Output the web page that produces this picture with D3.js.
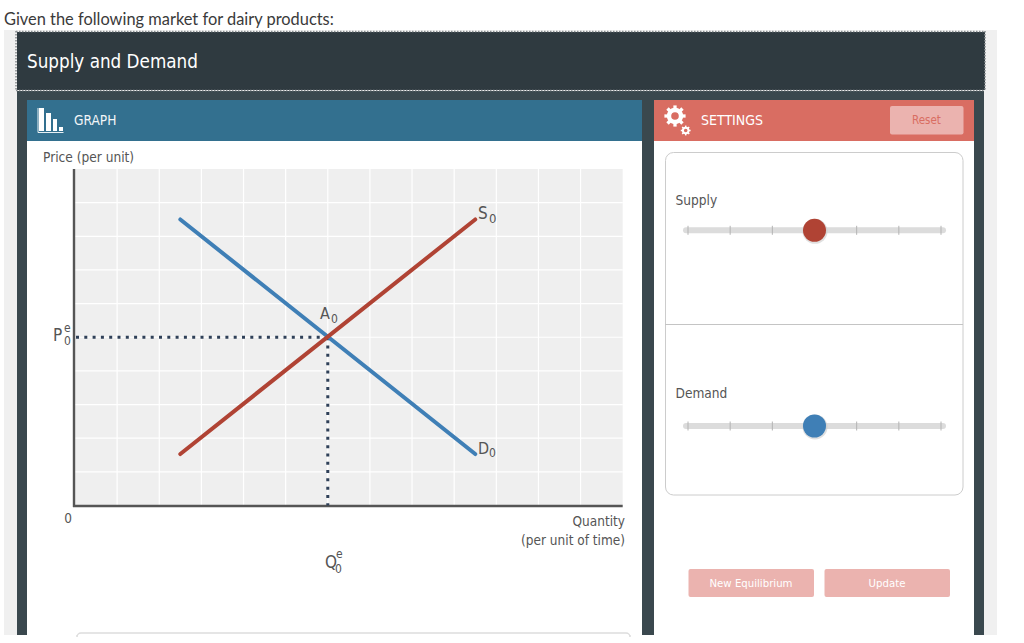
<!DOCTYPE html>
<html><head><meta charset="utf-8">
<script src="https://cdn.jsdelivr.net/npm/d3@7"></script>
<style>html,body{margin:0;padding:0;background:#fff;overflow:hidden}svg{display:block}</style></head>
<body><svg id="c" width="1024" height="643"></svg>
<script>
// ---- data ----
const supplyQ=[2.5,9.5], supplyP=[1.53,8.5];
const demandQ=[2.5,9.5], demandP=[8.5,1.53];
const eqQ=6, eqP=5;
const xDomain=[0,13], yDomain=[0,10];
const xGridTicks=d3.range(1,13), yGridTicks=d3.range(1,10);
const sliderStops=[0,1,2,4,5,6], sliderValue=3;

const svg=d3.select('#c');
const font='"DejaVu Sans Condensed","DejaVu Sans",sans-serif';
const rect=(x,y,w,h,f,r)=>svg.append('rect').attr('x',x).attr('y',y).attr('width',w).attr('height',h).attr('fill',f).attr('rx',r||0);
const txt=(x,y,s,size,fill,anchor,fam)=>svg.append('text').attr('x',x).attr('y',y).text(s).attr('font-size',size).attr('fill',fill).attr('text-anchor',anchor||'start').attr('font-family',fam||font);

// page furniture
txt(4,25,'Given the following market for dairy products:',16.4,'#3a3a3a','start','Lato,"Open Sans",sans-serif');
rect(4,30,993,605,'#f0f0f0');
rect(17,91,967,544,'#3a484e');
rect(17,32,968,58,'#2f3a40');
svg.append('path').attr('d','M16,90.5H985M16,31.5H985M16,31V90M985,31V90').attr('fill','none').attr('stroke','#8a8f92').attr('stroke-width',1.6).attr('stroke-dasharray','1.5 1.5');
txt(27,68,'Supply and Demand',18.7,'#fff');

// graph panel
rect(27,100,615,41,'#33708f');
rect(27,141,615,494,'#fff');
txt(74,125,'GRAPH',13.6,'#f2f6f8');
[[39,108,5,23],[46,113,5,18],[53,119,4,12],[59,127,4,4]].forEach(d=>rect(d[0],d[1],d[2],d[3],'#fff'));
svg.append('path').attr('d','M38,108V132.5H63.5').attr('fill','none').attr('stroke','#e8f0f4').attr('stroke-width',1);
txt(43,162,'Price (per unit)',13.6,'#555');

// plot
const x=d3.scaleLinear().domain(xDomain).range([75,622.7]);
const y=d3.scaleLinear().domain(yDomain).range([505.5,169]);
rect(x(0),y(10),x(13)-x(0),y(0)-y(10),'#efefef');
const g=svg.append('g');
g.selectAll('.gx').data(xGridTicks).join('line').attr('x1',d=>x(d)).attr('x2',d=>x(d)).attr('y1',y(10)).attr('y2',y(0)).attr('stroke','#fff').attr('stroke-width',1.2);
g.selectAll('.gy').data(yGridTicks).join('line').attr('y1',d=>y(d)).attr('y2',d=>y(d)).attr('x1',x(0)).attr('x2',x(13)).attr('stroke','#fff').attr('stroke-width',1.2);
svg.append('line').attr('x1',x(0)-1).attr('x2',x(0)-1).attr('y1',y(10)).attr('y2',y(0)+1.5).attr('stroke','#555').attr('stroke-width',2.4);
svg.append('line').attr('x1',x(0)-2).attr('x2',x(13)).attr('y1',y(0)+.5).attr('y2',y(0)+.5).attr('stroke','#555').attr('stroke-width',2.4);

// dotted equilibrium guides
const dot=(x1,y1,x2,y2)=>svg.append('line').attr('x1',x1).attr('y1',y1).attr('x2',x2).attr('y2',y2).attr('stroke','#2f4058').attr('stroke-width',3).attr('stroke-dasharray','3 5.3');
dot(x(0)+1,y(eqP),x(eqQ),y(eqP));
dot(x(eqQ),y(eqP),x(eqQ),y(0));

const line=d3.line().x(d=>x(d[0])).y(d=>y(d[1]));
const curve=(qs,ps,c)=>svg.append('path').attr('d',line(qs.map((q,i)=>[q,ps[i]]))).attr('fill','none').attr('stroke',c).attr('stroke-width',4).attr('stroke-linecap','round');
curve(demandQ,demandP,'#3f7fb6');
curve(supplyQ,supplyP,'#b04334');

const sub=(xx,yy,a,b,size,sz2,dx,dy)=>{txt(xx,yy,a,size,'#555');txt(xx+dx,yy+dy,b,sz2,'#555');};
sub(478,219,'S','0',17,13,11,4);
sub(478,454,'D','0',16,12,11,3);
sub(320,319,'A','0',16,12,11,3.5);
txt(53,341,'P',17,'#555'); txt(64,345,'0',12,'#555'); txt(64,332,'e',12,'#555');
txt(325,568,'Q',17,'#555'); txt(335,573,'0',12,'#555'); txt(336,558,'e',12,'#555');
txt(68,523,'0',13.5,'#555','middle');
txt(625,526,'Quantity',13.5,'#555','end');
txt(625,545,'(per unit of time)',13.5,'#555','end');
svg.append('path').attr('d','M77,635V637a4,4 0 0 1 4,-4H626a4,4 0 0 1 4,4V635').attr('fill','none').attr('stroke','#ddd').attr('stroke-width',1.5);

// settings panel
rect(654,100,320,41,'#d96d62');
rect(654,141,320,494,'#fff');
const gear=(cx,cy,r,w)=>{
  svg.append('circle').attr('cx',cx).attr('cy',cy).attr('r',r).attr('fill','none').attr('stroke','#fff').attr('stroke-width',w);
  const n=8,ro=r+w/2+r*.4;
  d3.range(n).forEach(i=>{const a=i/n*2*Math.PI;svg.append('line').attr('x1',cx+Math.cos(a)*r).attr('y1',cy+Math.sin(a)*r).attr('x2',cx+Math.cos(a)*ro).attr('y2',cy+Math.sin(a)*ro).attr('stroke','#fff').attr('stroke-width',r*.55);});
};
gear(675,116,6,4.4); gear(685.7,130.5,2.8,2);
txt(701,125,'SETTINGS',14,'#fff');
rect(890,106,73.5,28.5,'#ebb3af',2);
txt(926.5,124,'Reset',11.5,'#d96d62','middle');

svg.append('rect').attr('x',665.5).attr('y',152.5).attr('width',297.5).attr('height',342.5).attr('rx',8).attr('fill','#fff').attr('stroke','#ccc');
svg.append('line').attr('x1',665).attr('x2',963).attr('y1',324.5).attr('y2',324.5).attr('stroke','#c4c4c4');
txt(675.5,204.5,'Supply',13.6,'#555');
txt(675.5,398,'Demand',13.6,'#555');

const sx=d3.scaleLinear().domain([0,6]).range([688,941]);
const slider=(cy,c)=>{
  svg.append('rect').attr('x',683).attr('y',cy-3).attr('width',263).attr('height',6).attr('rx',3).attr('fill','#dcdcdc');
  svg.selectAll(null).data(sliderStops).join('line').attr('x1',d=>sx(d)).attr('x2',d=>sx(d)).attr('y1',cy-4.5).attr('y2',cy+4.5).attr('stroke','#b4b4b4').attr('stroke-width',1);
  svg.append('circle').attr('cx',sx(sliderValue)+.5).attr('cy',cy+1).attr('r',12.5).attr('fill','#ccc').attr('opacity',.6);
  svg.append('circle').attr('cx',sx(sliderValue)).attr('cy',cy).attr('r',11.5).attr('fill',c);
};
slider(230.3,'#b04334');
slider(426,'#3f7fb6');

rect(688.5,569,125.5,28,'#ebb3af',2);
rect(824.5,569,125.5,28,'#ebb3af',2);
txt(751,587,'New Equilibrium',11.3,'#fff','middle');
txt(887,587,'Update',11.3,'#fff','middle');
</script></body></html>
